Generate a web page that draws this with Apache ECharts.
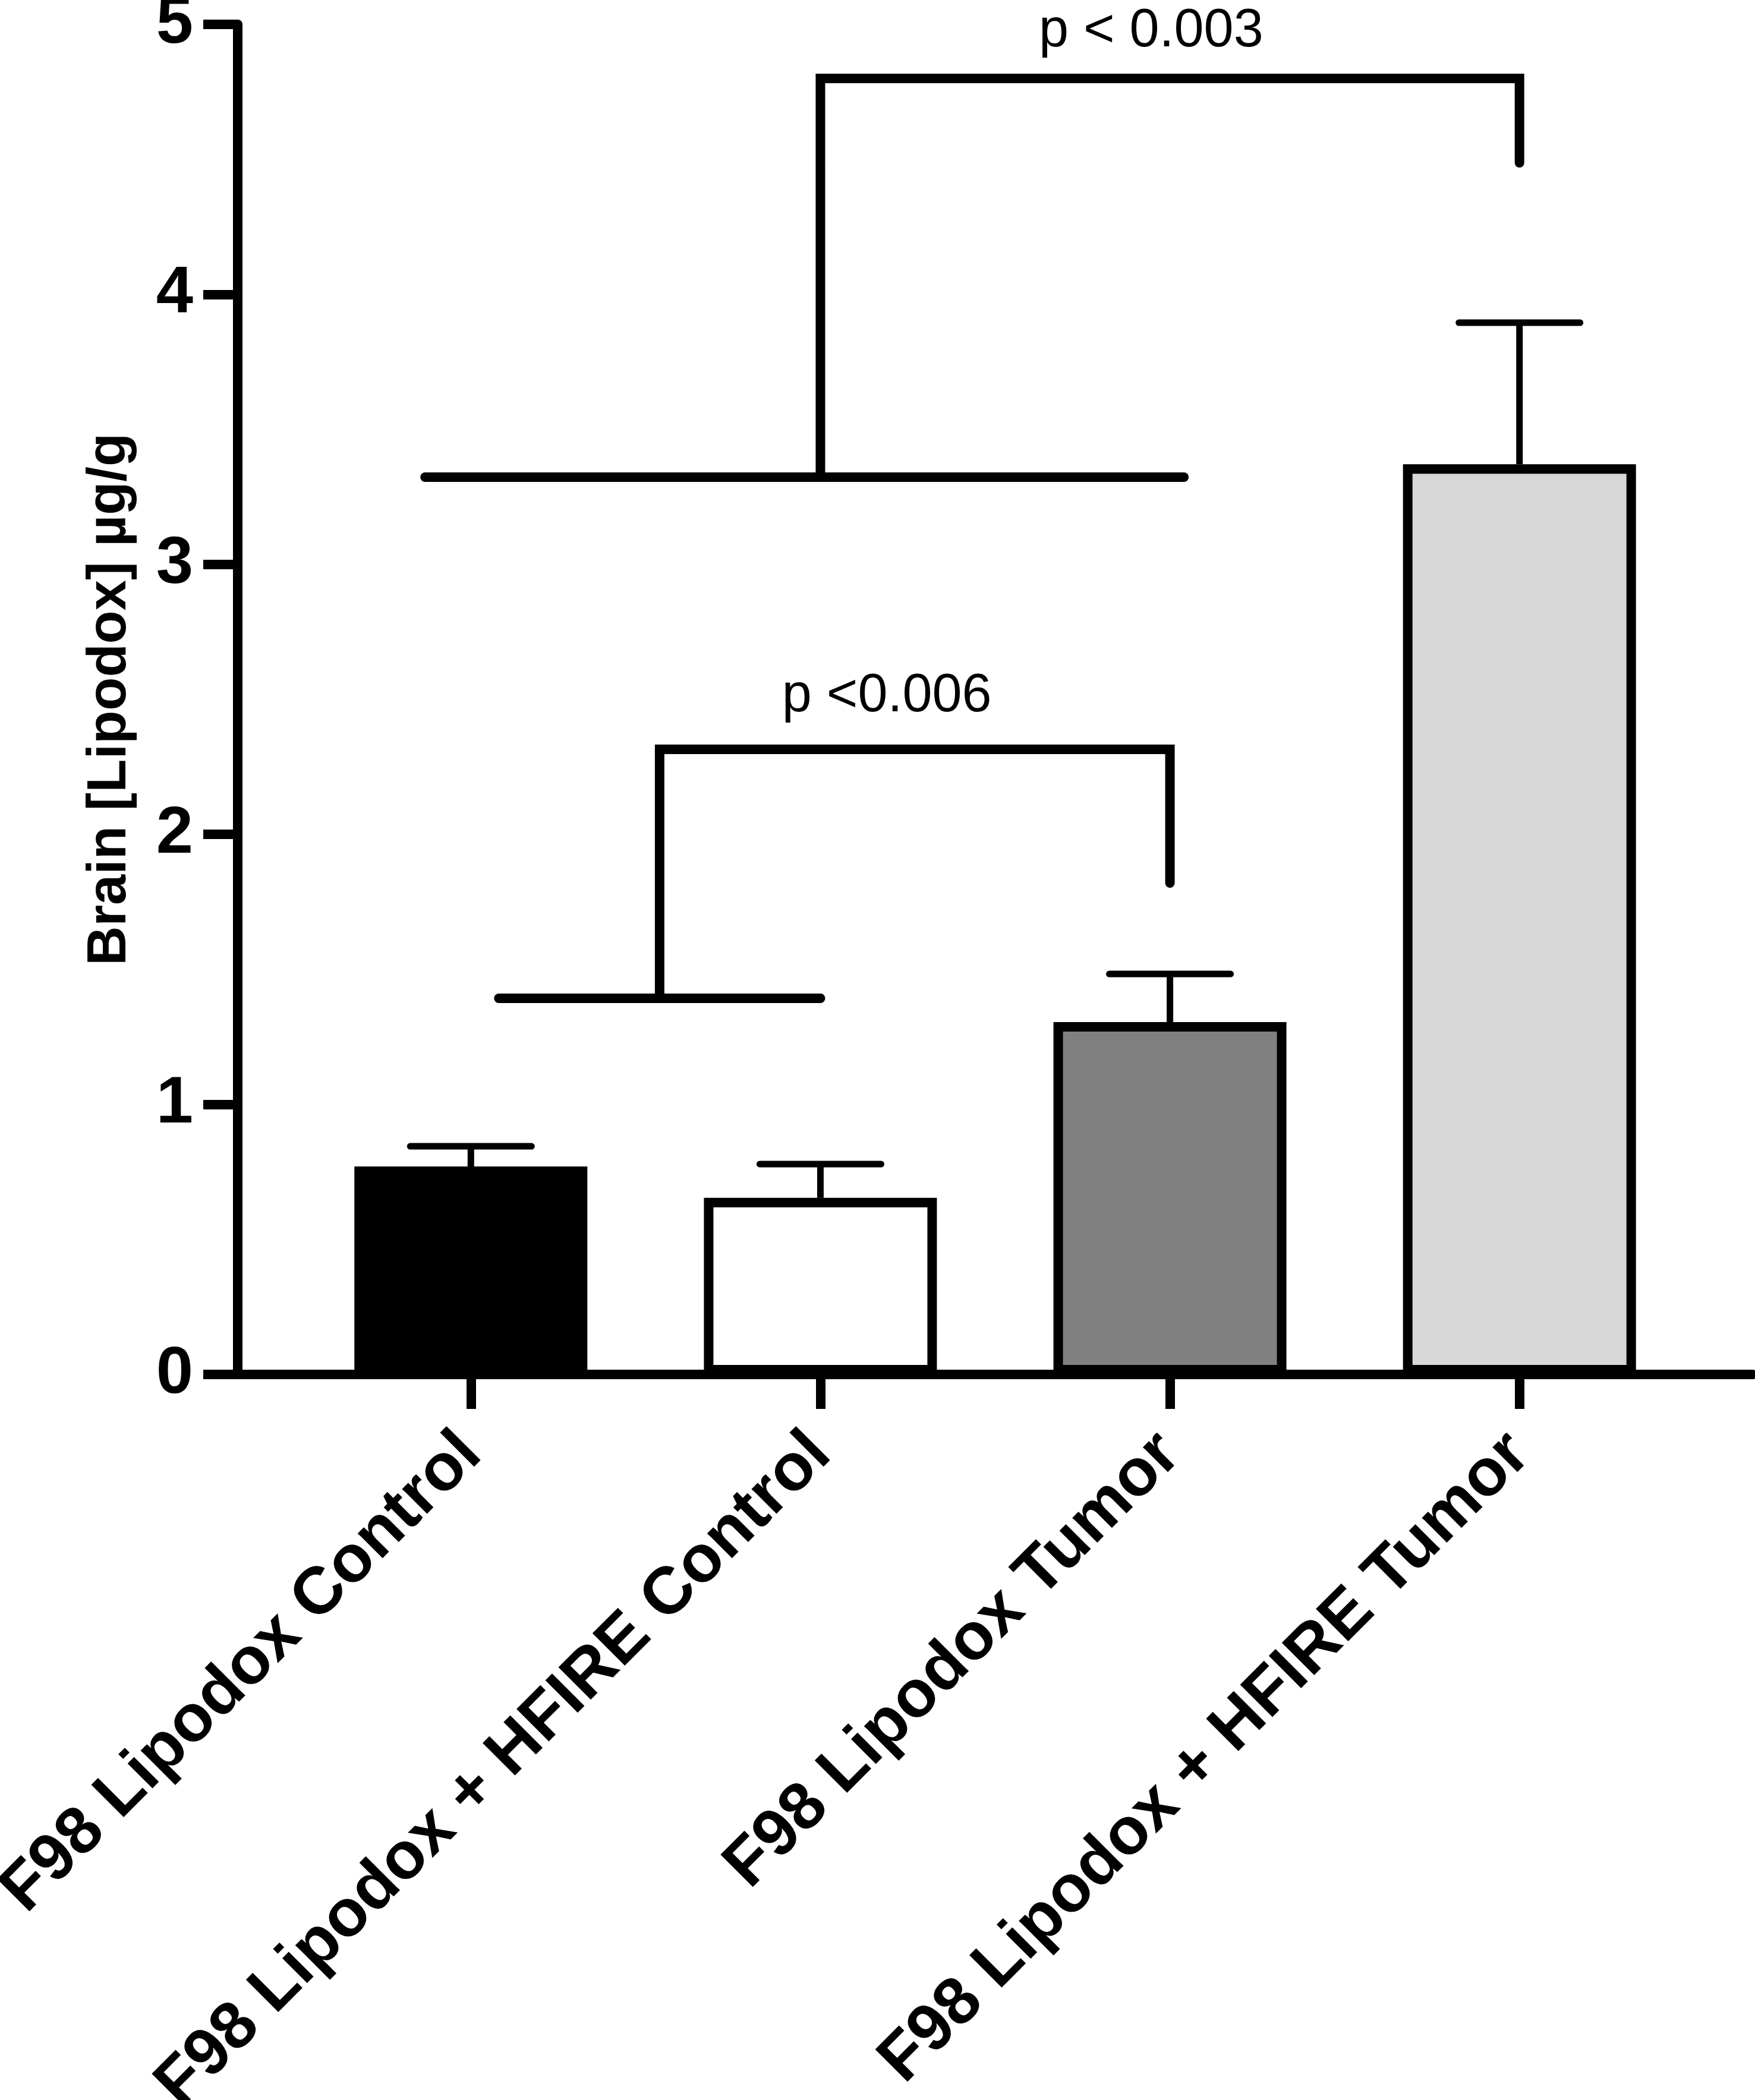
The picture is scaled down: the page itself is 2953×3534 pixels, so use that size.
<!DOCTYPE html>
<html>
<head>
<meta charset="utf-8">
<script src="https://cdn.jsdelivr.net/npm/echarts@6.0.0/dist/echarts.min.js"></script>
<style>
  html, body { margin: 0; padding: 0; background: #ffffff; }
  #chart { width: 2953px; height: 3534px; }
</style>
</head>
<body>
<div id="chart"></div>
<script>
// ---- data ----
const categories = [
  'F98 Lipodox Control',
  'F98 Lipodox + HFIRE Control',
  'F98 Lipodox Tumor',
  'F98 Lipodox + HFIRE Tumor'
];
const categoryPositions = [0, 1, 2, 3];
const means = [0.770, 0.654, 1.305, 3.371];
const errorUpper = [0.845, 0.779, 1.483, 3.895];
const barColors = ['#000000', '#ffffff', '#808080', '#d7d7d7'];
const yTickValues = [0, 1, 2, 3, 4, 5];
const yAxisTitle = 'Brain [Lipodox] \u00b5g/g';

// comparison group lines: [xStart, xEnd, y]
const groupLines = [
  [0.08, 1.0, 1.393],
  [-0.131, 2.04, 3.323]
];
// brackets: [leftX, leftBottomY, rightX, topY, rightBottomY]
const brackets = [
  [0.54, 1.393, 2.0, 2.315, 1.82],
  [1.0, 3.323, 3.0, 4.80, 4.487]
];
// p-value labels: [x, y, text]
const pLabels = [
  [1.19, 2.511, 'p <0.006'],
  [1.946, 4.974, 'p < 0.003']
];

// ---- styles ----
const FONT = '"Liberation Sans", Arial, Helvetica, sans-serif';
const AXIS_W = 16;
const ERR_W = 11;
const CAP_HALF = 0.1735;   // in category units
const BRACKET_W = 16;

const chart = echarts.init(document.getElementById('chart'), null, { renderer: 'canvas' });

const option = {
  animation: false,
  backgroundColor: '#ffffff',
  grid: {
    left: 400, top: 41, width: 2549, bottom: 1221,
    containLabel: false, outerBoundsMode: 'none'
  },
  xAxis: {
    type: 'value',
    min: -0.667,
    max: 3.667,
    splitLine: { show: false },
    axisLine: { show: true, onZero: false, lineStyle: { color: '#000', width: AXIS_W } },
    axisTick: { show: true, customValues: categoryPositions, length: 58, lineStyle: { color: '#000', width: AXIS_W } },
    axisLabel: {
      show: true,
      customValues: categoryPositions,
      formatter: function (v) { return categories[Math.round(v)]; },
      rotate: 45,
      margin: 117,
      fontSize: 112,
      fontWeight: 'bold',
      fontFamily: FONT,
      color: '#000'
    }
  },
  yAxis: {
    type: 'value',
    min: yTickValues[0],
    max: yTickValues[yTickValues.length - 1],
    interval: 1,
    splitLine: { show: false },
    axisLine: { show: true, onZero: false, lineStyle: { color: '#000', width: AXIS_W } },
    axisTick: { show: true, length: 58, lineStyle: { color: '#000', width: AXIS_W } },
    axisLabel: {
      margin: 75,
      fontSize: 112,
      fontWeight: 'bold',
      fontFamily: FONT,
      color: '#000'
    },
    name: yAxisTitle,
    nameLocation: 'middle',
    nameRotate: 90,
    nameGap: 168,
    nameTextStyle: {
      fontSize: 92,
      fontWeight: 'bold',
      fontFamily: FONT,
      color: '#000'
    }
  },
  series: [
    {
      type: 'bar',
      barWidth: 392,
      z: 2,
      data: means.map(function (v, i) {
        return {
          value: [categoryPositions[i], v],
          itemStyle: { color: barColors[i], borderColor: '#000', borderWidth: 16 }
        };
      })
    },
    {
      type: 'custom',
      z: 3,
      clip: false,
      data: means.map(function (v, i) { return [categoryPositions[i], v, errorUpper[i]]; }),
      renderItem: function (params, api) {
        const x = api.value(0);
        const base = api.coord([x, api.value(1)]);
        const top = api.coord([x, api.value(2)]);
        const capL = api.coord([x - CAP_HALF, api.value(2)]);
        const capR = api.coord([x + CAP_HALF, api.value(2)]);
        const style = { stroke: '#000', lineWidth: ERR_W, lineCap: 'round' };
        return {
          type: 'group',
          children: [
            { type: 'line', shape: { x1: base[0], y1: base[1], x2: top[0], y2: top[1] }, style: { stroke: '#000', lineWidth: ERR_W, lineCap: 'butt' } },
            { type: 'line', shape: { x1: capL[0], y1: capL[1], x2: capR[0], y2: capR[1] }, style: style }
          ]
        };
      }
    },
    {
      type: 'custom',
      z: 4,
      clip: false,
      data: groupLines,
      renderItem: function (params, api) {
        const a = api.coord([api.value(0), api.value(2)]);
        const b = api.coord([api.value(1), api.value(2)]);
        return {
          type: 'line',
          shape: { x1: a[0], y1: a[1], x2: b[0], y2: b[1] },
          style: { stroke: '#000', lineWidth: BRACKET_W, lineCap: 'round' }
        };
      }
    },
    {
      type: 'custom',
      z: 4,
      clip: false,
      data: brackets,
      renderItem: function (params, api) {
        const p1 = api.coord([api.value(0), api.value(1)]);
        const p2 = api.coord([api.value(0), api.value(3)]);
        const p3 = api.coord([api.value(2), api.value(3)]);
        const p4 = api.coord([api.value(2), api.value(4)]);
        return {
          type: 'polyline',
          shape: { points: [p1, p2, p3, p4] },
          style: { stroke: '#000', fill: null, lineWidth: BRACKET_W, lineCap: 'round', lineJoin: 'miter' }
        };
      }
    },
    {
      type: 'custom',
      z: 5,
      clip: false,
      data: pLabels,
      renderItem: function (params, api) {
        const p = api.coord([api.value(0), api.value(1)]);
        return {
          type: 'text',
          x: p[0],
          y: p[1],
          style: {
            text: pLabels[params.dataIndex][2],
            fontSize: 90,
            fontFamily: FONT,
            fill: '#000',
            align: 'center',
            verticalAlign: 'middle'
          }
        };
      }
    }
  ]
};

chart.setOption(option);
</script>
</body>
</html>
